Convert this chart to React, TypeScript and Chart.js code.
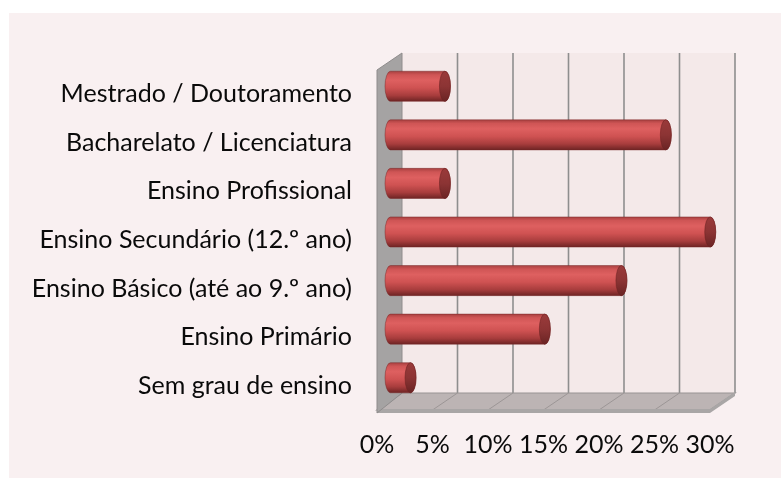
import React, { useEffect, useRef } from "react";
import { Chart, registerables } from "chart.js";

Chart.register(...registerables);

const categories = [
  "Mestrado / Doutoramento",
  "Bacharelato / Licenciatura",
  "Ensino Profissional",
  "Ensino Secundário (12.º ano)",
  "Ensino Básico (até ao 9.º ano)",
  "Ensino Primário",
  "Sem grau de ensino",
];
const values = [5.4, 25.3, 5.4, 29.3, 21.3, 14.4, 2.3];
const xTicks = [0, 5, 10, 15, 20, 25, 30];

const W = 772;
const H = 465;
const DEPTH_X = 25;
const DEPTH_Y = -17;
const BAR_DX = 8;
const BAR_DY = -8;
const CAP_RX = 5.5;

const wallsPlugin = {
  id: "walls3d",
  beforeDraw(chart: any) {
    const ctx = chart.ctx;
    ctx.save();
    ctx.fillStyle = "#F9F0F1";
    ctx.fillRect(0, 0, chart.width, chart.height);
    ctx.restore();
  },
  beforeDatasetsDraw(chart: any) {
    const ctx = chart.ctx;
    const xs = chart.scales.x;
    const area = chart.chartArea;
    const x0 = xs.getPixelForValue(xTicks[0]);
    const x1 = xs.getPixelForValue(xTicks[xTicks.length - 1]);
    const top = area.top;
    const bot = area.bottom;
    ctx.save();
    // back wall
    ctx.fillStyle = "#F4E9E9";
    ctx.fillRect(x0 + DEPTH_X, top + DEPTH_Y, x1 - x0, bot - top);
    // gridlines on back wall
    ctx.strokeStyle = "#8E8E8E";
    ctx.lineWidth = 1.6;
    for (const v of xTicks) {
      if (v === 0) continue;
      const gx = xs.getPixelForValue(v) + DEPTH_X;
      ctx.beginPath();
      ctx.moveTo(gx, top + DEPTH_Y);
      ctx.lineTo(gx, bot + DEPTH_Y);
      ctx.stroke();
    }
    // floor
    ctx.fillStyle = "#BCB4B4";
    ctx.beginPath();
    ctx.moveTo(x0, bot);
    ctx.lineTo(x1, bot);
    ctx.lineTo(x1 + DEPTH_X, bot + DEPTH_Y);
    ctx.lineTo(x0 + DEPTH_X, bot + DEPTH_Y);
    ctx.closePath();
    ctx.fill();
    ctx.strokeStyle = "#979393";
    ctx.lineWidth = 1.2;
    ctx.stroke();
    // floor perspective lines
    ctx.strokeStyle = "#9C9696";
    ctx.lineWidth = 1;
    for (const v of xTicks) {
      const gx = xs.getPixelForValue(v);
      ctx.beginPath();
      ctx.moveTo(gx, bot);
      ctx.lineTo(gx + DEPTH_X, bot + DEPTH_Y);
      ctx.stroke();
    }
    // floor front thickness
    ctx.fillStyle = "#A9A6A6";
    ctx.fillRect(x0, bot - 1, x1 - x0, 4);
    ctx.beginPath();
    ctx.moveTo(x1, bot - 1);
    ctx.lineTo(x1 + DEPTH_X, bot - 1 + DEPTH_Y);
    ctx.lineTo(x1 + DEPTH_X, bot + 3 + DEPTH_Y);
    ctx.lineTo(x1, bot + 3);
    ctx.closePath();
    ctx.fill();
    // side wall
    ctx.fillStyle = "#A5A3A3";
    ctx.beginPath();
    ctx.moveTo(x0, top);
    ctx.lineTo(x0 + DEPTH_X, top + DEPTH_Y);
    ctx.lineTo(x0 + DEPTH_X, bot + DEPTH_Y);
    ctx.lineTo(x0, bot + 3);
    ctx.closePath();
    ctx.fill();
    ctx.strokeStyle = "#8F8C8C";
    ctx.lineWidth = 1;
    ctx.stroke();
    ctx.restore();
  },
  afterDatasetsDraw(chart: any) {
    const ctx = chart.ctx;
    const meta = chart.getDatasetMeta(0);
    ctx.save();
    meta.data.forEach((bar: any) => {
      const p = bar.getProps(["x", "y", "base", "height"], true);
      const r = p.height / 2;
      const cy = p.y + BAR_DY;
      const S = p.base + BAR_DX;
      const E = p.x + BAR_DX;
      const L = S + CAP_RX;
      const tTop = cy - r;
      const tBot = cy + r;
      const g = ctx.createLinearGradient(0, tTop, 0, tBot);
      g.addColorStop(0, "#A84040");
      g.addColorStop(0.12, "#CF5555");
      g.addColorStop(0.3, "#DE6060");
      g.addColorStop(0.55, "#CF5252");
      g.addColorStop(0.8, "#A83D3D");
      g.addColorStop(1, "#6E2424");
      ctx.beginPath();
      ctx.moveTo(L, tTop);
      ctx.lineTo(E, tTop);
      ctx.ellipse(E, cy, CAP_RX, r, 0, -Math.PI / 2, Math.PI / 2, false);
      ctx.lineTo(L, tBot);
      ctx.ellipse(L, cy, CAP_RX, r, 0, Math.PI / 2, (3 * Math.PI) / 2, false);
      ctx.closePath();
      ctx.fillStyle = g;
      ctx.fill();
      ctx.strokeStyle = "rgba(120,40,40,0.6)";
      ctx.lineWidth = 0.8;
      ctx.stroke();
      const gc = ctx.createLinearGradient(0, tTop, 0, tBot);
      gc.addColorStop(0, "#9A3A3A");
      gc.addColorStop(0.5, "#8C3434");
      gc.addColorStop(1, "#6A2424");
      ctx.beginPath();
      ctx.ellipse(E, cy, CAP_RX, r, 0, 0, Math.PI * 2);
      ctx.fillStyle = gc;
      ctx.fill();
      ctx.strokeStyle = "rgba(110,35,35,0.7)";
      ctx.stroke();
    });
    ctx.restore();
  },
};

export default function App() {
  const ref = useRef<HTMLCanvasElement | null>(null);
  useEffect(() => {
    if (!ref.current) return;
    const chart = new Chart(ref.current, {
      type: "bar",
      data: {
        labels: categories,
        datasets: [
          {
            data: values,
            backgroundColor: "rgba(0,0,0,0)",
            borderWidth: 0,
            categoryPercentage: 1,
            barPercentage: 0.62,
          },
        ],
      },
      options: {
        indexAxis: "y",
        responsive: false,
        animation: false,
        devicePixelRatio: 1,
        layout: { padding: { top: 57, right: 71, bottom: 0, left: 0 } },
        plugins: { legend: { display: false }, tooltip: { enabled: false } },
        scales: {
          x: {
            min: 0,
            max: 30,
            border: { display: false },
            grid: { display: false, drawTicks: false },
            ticks: {
              stepSize: 5,
              padding: 20,
              color: "#0a0a0a",
              font: { family: "Lato", size: 25 },
              callback: (v: any) => v + "%",
            },
            afterFit: (s: any) => {
              s.height = 68;
            },
          },
          y: {
            border: { display: false },
            grid: { display: false, drawTicks: false },
            ticks: {
              padding: 25,
              color: "#0a0a0a",
              font: { family: "Lato", size: 25 },
            },
            afterFit: (s: any) => {
              s.width = 368;
            },
          },
        },
      },
      plugins: [wallsPlugin],
    });
    return () => chart.destroy();
  }, []);
  return (
    <div style={{ position: "fixed", left: 9, top: 13, width: W, height: H }}>
      <canvas ref={ref} width={W} height={H} style={{ width: W, height: H, display: "block" }} />
    </div>
  );
}
